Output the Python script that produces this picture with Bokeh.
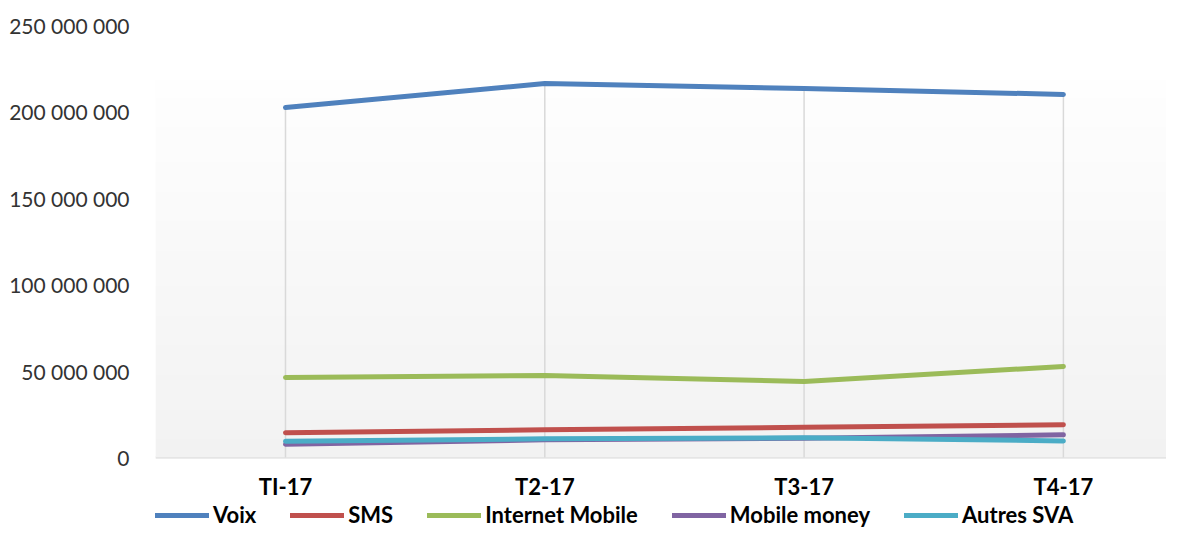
import numpy as np
from bokeh.plotting import figure
from bokeh.models import Range1d, FixedTicker, Legend, LegendItem, Span
from bokeh.core.properties import value
from bokeh.embed import file_html
from bokeh.resources import INLINE

# ---- data ----
categories = ["TI-17", "T2-17", "T3-17", "T4-17"]
voix = [202500000, 216400000, 213500000, 210100000]
sms = [14300000, 16000000, 17500000, 18900000]
internet_mobile = [46300000, 47500000, 44000000, 52700000]
mobile_money = [7700000, 10200000, 11200000, 13100000]
autres_sva = [9400000, 10800000, 11400000, 9600000]
series_names = ["Voix", "SMS", "Internet Mobile", "Mobile money", "Autres SVA"]
y_ticks = [0, 50000000, 100000000, 150000000, 200000000, 250000000]
y_tick_labels = ["0", "50 000 000", "100 000 000", "150 000 000", "200 000 000", "250 000 000"]

colors = ["#4f81bd", "#c0504d", "#9bbb59", "#8064a2", "#4bacc6"]
xs = list(range(len(categories)))

# ---- layout (pixels) ----
W, H = 1166, 528
TOP, LEFT = 25, 155
AXIS_PX = 432                     # pixels from 0 to 250 000 000
Y_MAX = 250000000
units_per_px = Y_MAX / AXIS_PX
frame_h = H - TOP
Y_MIN = Y_MAX - frame_h * units_per_px
X0, X1 = -0.5013, 3.3976

p = figure(width=W, height=H, output_backend="svg", toolbar_location=None,
           x_range=Range1d(X0, X1), y_range=Range1d(Y_MIN, Y_MAX),
           min_border_left=LEFT, min_border_right=0, min_border_top=TOP, min_border_bottom=0)
p.outline_line_color = None
p.background_fill_color = "white"
p.border_fill_color = "white"
p.xgrid.visible = False
p.ygrid.visible = False
p.xaxis.visible = False

# background gradient of the plot area
N = 64
img = np.empty((N, 1), dtype=np.uint32)
view = img.view(dtype=np.uint8).reshape((N, 1, 4))
for i in range(N):
    c = int(round(242 + (254 - 242) * i / (N - 1)))
    view[i, 0, :] = [c, c, c, 255]
p.image_rgba(image=[img], x=X0, y=0, dw=X1 - X0, dh=377 * units_per_px)

# drop lines
p.segment(x0=xs, y0=[0] * len(xs), x1=xs, y1=voix, line_color="#d9d9d9", line_width=1.5)

# category axis line
p.add_layout(Span(location=0, dimension="width", line_color="#d9d9d9", line_width=2, level="underlay"))

data = [voix, sms, internet_mobile, mobile_money, autres_sva]
renderers = []
for vals, col in zip(data, colors):
    r = p.line(xs, vals, line_color=col, line_width=5, line_cap="round", line_join="round")
    renderers.append(r)

# category labels
p.text(x=xs, y=[-29 * units_per_px] * len(xs), text=categories, text_align="center",
       text_baseline="middle", text_font=value("Lato"), text_font_style="bold",
       text_font_size="22px", text_color="black")

# y axis
p.yaxis.ticker = FixedTicker(ticks=y_ticks)
p.yaxis.major_label_overrides = {t: l for t, l in zip(y_ticks, y_tick_labels)}
p.yaxis.axis_line_color = None
p.yaxis.major_tick_line_color = None
p.yaxis.minor_tick_line_color = None
p.yaxis.major_label_text_font = "Lato"
p.yaxis.major_label_text_font_size = "21px"
p.yaxis.major_label_text_color = "#333333"
p.yaxis.major_label_standoff = 20

legend = Legend(items=[LegendItem(label=n, renderers=[r]) for n, r in zip(series_names, renderers)],
                orientation="horizontal", location=(0, 0),
                glyph_width=54, glyph_height=14, label_standoff=4, spacing=34, padding=0, margin=0,
                border_line_color=None, background_fill_alpha=0,
                label_text_font="Lato", label_text_font_style="bold", label_text_font_size="22px",
                label_text_color="black")
p.add_layout(legend, "center")

open("out.html", "w").write(file_html(p, INLINE))
